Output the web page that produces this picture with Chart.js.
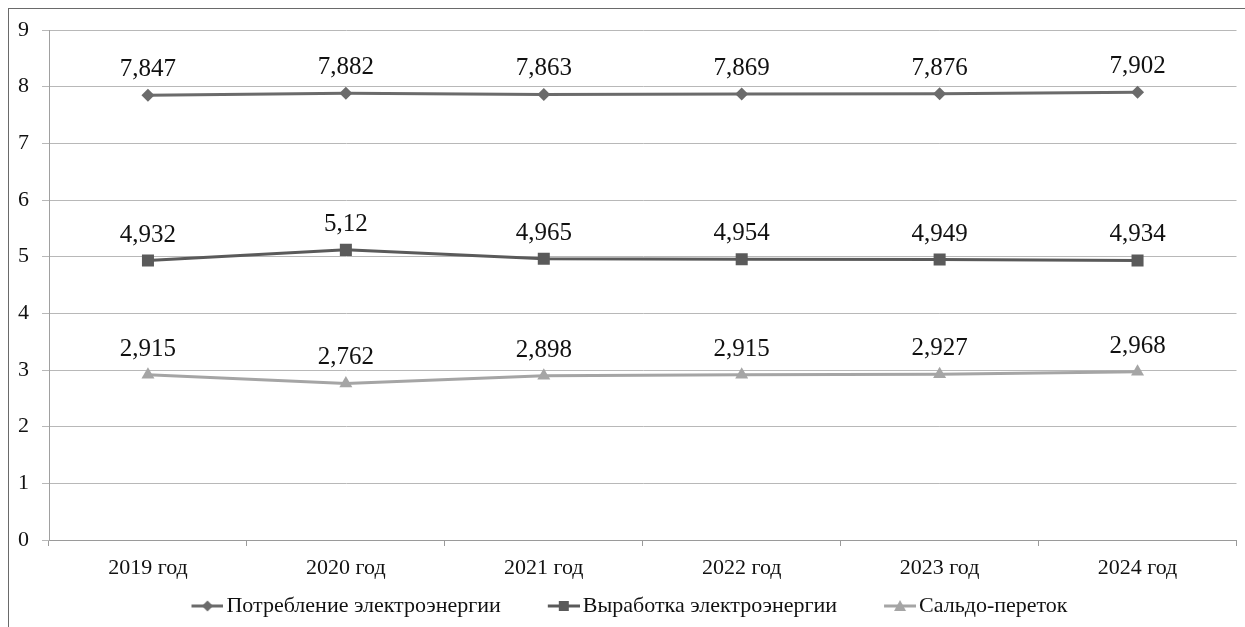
<!DOCTYPE html>
<html lang="ru">
<head>
<meta charset="utf-8">
<title>Электроэнергия</title>
<script src="https://cdn.jsdelivr.net/npm/chart.js@4/dist/chart.umd.min.js"></script>
<style>
  html, body { margin: 0; padding: 0; background: #fff; }
  body { width: 1245px; height: 627px; overflow: hidden; position: relative; }
  #frame {
    position: absolute; left: 8px; top: 8px;
    width: 1237px; height: 619px;
    border-top: 1px solid #6a6a6a; border-left: 1px solid #6a6a6a;
    box-sizing: border-box;
  }
  #wrap { position: absolute; left: 0; top: 0; width: 1236px; height: 618px; }
</style>
</head>
<body>
<div id="frame"><div id="wrap"><canvas id="chart"></canvas></div></div>
<script>
// Categories and series values
const years = ['2019 год', '2020 год', '2021 год', '2022 год', '2023 год', '2024 год'];
const consumption = [7.847, 7.882, 7.863, 7.869, 7.876, 7.902];
const generation  = [4.932, 5.12, 4.965, 4.954, 4.949, 4.934];
const balanceFlow = [2.915, 2.762, 2.898, 2.915, 2.927, 2.968];
const seriesNames = ['Потребление электроэнергии', 'Выработка электроэнергии', 'Сальдо-переток'];
const yTicks = [0, 1, 2, 3, 4, 5, 6, 7, 8, 9];

const FONT = '"Liberation Serif", "Times New Roman", serif';
const colors = ['#6b6b6b', '#5a5a5a', '#a5a5a5'];
const styles = ['rectRot', 'rect', 'triangle'];
const radii  = [6.5, 8.5, 7.5];

// Legend swatch: a line with the series marker, placed at the right edge
// of a wider transparent image so it sits close to its text.
const BOX_W = 61;
function legendSwatch(color, style) {
  const c = document.createElement('canvas');
  c.width = BOX_W + 16; c.height = 16;
  const g = c.getContext('2d');
  const x0 = c.width - 32, cx = x0 + 16;
  g.strokeStyle = color; g.lineWidth = 3;
  g.beginPath(); g.moveTo(x0, 8); g.lineTo(x0 + 32, 8); g.stroke();
  g.fillStyle = color;
  g.beginPath();
  if (style === 'rectRot') {
    g.moveTo(cx, 2.5); g.lineTo(cx + 5.5, 8); g.lineTo(cx, 13.5); g.lineTo(cx - 5.5, 8);
  } else if (style === 'rect') {
    g.rect(cx - 5, 3, 10, 10);
  } else {
    g.moveTo(cx, 2); g.lineTo(cx + 6, 13); g.lineTo(cx - 6, 13);
  }
  g.closePath(); g.fill();
  return c;
}
const swatches = colors.map((c, i) => legendSwatch(c, styles[i]));

// Value labels above each point, decimal comma
const valueLabels = {
  id: 'valueLabels',
  afterDatasetsDraw(chart) {
    const ctx = chart.ctx;
    ctx.save();
    ctx.font = '25px ' + FONT;
    ctx.fillStyle = '#111';
    ctx.textAlign = 'center';
    ctx.textBaseline = 'alphabetic';
    chart.data.datasets.forEach((ds, di) => {
      const meta = chart.getDatasetMeta(di);
      meta.data.forEach((pt, i) => {
        const txt = String(ds.data[i]).replace('.', ',');
        ctx.fillText(txt, pt.x, pt.y - 19);
      });
    });
    ctx.restore();
  }
};

// Nudge the legend row a little to the left of the canvas centre
const legendShift = {
  id: 'legendShift',
  afterLayout(chart) {
    if (chart.legend) {
      chart.legend.right -= 24;
      chart.legend.width -= 24;
    }
  }
};

const sets = [consumption, generation, balanceFlow].map((data, i) => ({
  label: seriesNames[i],
  data: data,
  borderColor: colors[i],
  backgroundColor: colors[i],
  borderWidth: 3,
  pointStyle: styles[i],
  pointRadius: radii[i],
  pointHoverRadius: radii[i],
  pointBorderWidth: 0,
  tension: 0
}));

new Chart(document.getElementById('chart'), {
  type: 'line',
  data: { labels: years, datasets: sets },
  options: {
    responsive: true,
    maintainAspectRatio: false,
    animation: false,
    events: [],
    layout: { padding: { top: 21, right: 8, left: 0, bottom: 0 } },
    scales: {
      x: {
        offset: true,
        grid: {
          offset: true,
          drawOnChartArea: false,
          drawTicks: true,
          tickLength: 6,
          tickColor: '#9a9a9a',
          lineWidth: 1
        },
        border: { display: true, color: '#9a9a9a', width: 1 },
        ticks: {
          color: '#111',
          font: { family: FONT, size: 22 },
          padding: 9,
          maxRotation: 0,
          autoSkip: false
        },
        afterFit(scale) { scale.height = 45; }
      },
      y: {
        min: 0,
        max: 9,
        afterBuildTicks(scale) { scale.ticks = yTicks.map(v => ({ value: v })); },
        grid: {
          color: '#b8b8b8',
          lineWidth: 1,
          drawTicks: true,
          tickLength: 7,
          tickColor: '#b8b8b8'
        },
        border: { display: true, color: '#a0a0a0', width: 1 },
        ticks: {
          color: '#111',
          font: { family: FONT, size: 22 },
          padding: 13,
          callback: v => String(v)
        },
        afterFit(scale) {
          scale.width = 40;
          scale.paddingTop = 0;
          scale.paddingBottom = 0;
        }
      }
    },
    plugins: {
      tooltip: { enabled: false },
      legend: {
        position: 'bottom',
        labels: {
          color: '#111',
          font: { family: FONT, size: 22 },
          usePointStyle: true,
          pointStyleWidth: BOX_W,
          padding: 10,
          generateLabels(chart) {
            const items = Chart.defaults.plugins.legend.labels.generateLabels(chart);
            items.forEach((it, i) => { it.pointStyle = swatches[i]; });
            return items;
          }
        }
      }
    }
  },
  plugins: [valueLabels, legendShift]
});
</script>
</body>
</html>
